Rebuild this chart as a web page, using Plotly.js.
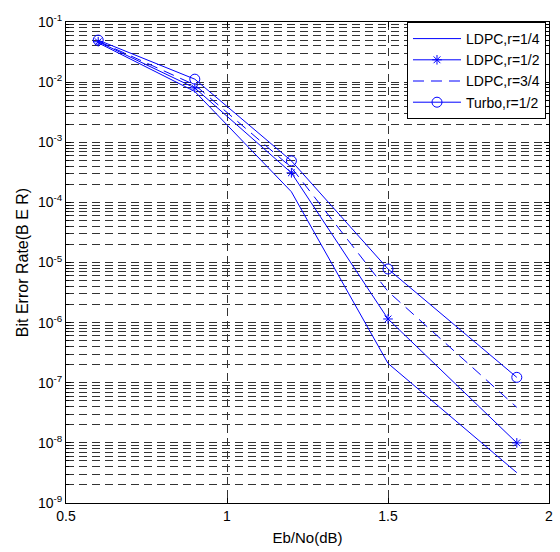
<!DOCTYPE html>
<html>
<head>
<meta charset="utf-8">
<script src="https://cdn.plot.ly/plotly-3.0.1.min.js"></script>
<style>html,body{margin:0;padding:0;background:#fff;}#chart{width:560px;height:552px;}</style>
</head>
<body>
<div id="chart"></div>
<script>
const ebno = [0.6, 0.9, 1.2, 1.5, 1.9];
const ldpc14 = [0.045, 0.0070, 1.5e-4, 2.1e-7, 3.2e-9];
const ldpc12 = [0.047, 0.0080, 3.1e-4, 1.15e-6, 1.0e-8];
const ldpc34 = [0.048, 0.0090, 3.8e-4, 3.3e-6, 3.9e-8];
const turbo12 = [0.050, 0.0112, 4.9e-4, 7.8e-6, 1.23e-7];
const seriesNames = ['LDPC,r=1/4', 'LDPC,r=1/2', 'LDPC,r=3/4', 'Turbo,r=1/2'];
const yTickVals = [1e-9, 1e-8, 1e-7, 1e-6, 1e-5, 1e-4, 1e-3, 1e-2, 1e-1];
const yTickText = ['10<sup>-9</sup>', '10<sup>-8</sup>', '10<sup>-7</sup>', '10<sup>-6</sup>', '10<sup>-5</sup>', '10<sup>-4</sup>', '10<sup>-3</sup>', '10<sup>-2</sup>', '10<sup>-1</sup>'];
const xTickVals = [0.5, 1, 1.5, 2];
const xTickText = ['0.5', '1', '1.5', '2'];

const blue = '#0000ff';
const traces = [
  {x: ebno, y: ldpc14, name: seriesNames[0], mode: 'lines', line: {color: blue, width: 1}},
  {x: ebno, y: ldpc12, name: seriesNames[1], mode: 'lines+markers', line: {color: blue, width: 1},
   marker: {symbol: 'asterisk-open', size: 8, color: blue, line: {color: blue, width: 1}}},
  {x: ebno, y: ldpc34, name: seriesNames[2], mode: 'lines', line: {color: blue, width: 1, dash: '11px,7px'}},
  {x: ebno, y: turbo12, name: seriesNames[3], mode: 'lines+markers', line: {color: blue, width: 1},
   marker: {symbol: 'circle-open', size: 10, color: blue, line: {color: blue, width: 1}}}
];

const font = {family: '"Liberation Sans", Arial, sans-serif', size: 14, color: '#000'};
const layout = {
  width: 560, height: 552,
  margin: {l: 66, r: 11, t: 22, b: 49},
  paper_bgcolor: '#fff', plot_bgcolor: '#fff',
  font: font,
  showlegend: true,
  legend: {x: 0.706, y: 1, xanchor: 'left', yanchor: 'top', bgcolor: '#fff',
           bordercolor: '#000', borderwidth: 1, itemwidth: 48,
           font: {family: font.family, size: 14, color: '#000'}},
  xaxis: {
    range: [0.5, 2], tickmode: 'array', tickvals: xTickVals, ticktext: xTickText,
    showline: true, linecolor: '#000', linewidth: 1, mirror: 'ticks',
    ticks: 'inside', ticklen: 5, tickcolor: '#000',
    tickfont: {family: font.family, size: 14},
    showgrid: true, gridcolor: '#333', gridwidth: 1, griddash: '8px,5px',
    zeroline: false,
    title: {text: 'Eb/No(dB)', font: {family: font.family, size: 15}, standoff: 9}
  },
  yaxis: {
    type: 'log', range: [-9, -1], tickmode: 'array', tickvals: yTickVals, ticktext: yTickText,
    showline: true, linecolor: '#000', linewidth: 1, mirror: 'ticks',
    ticks: 'inside', ticklen: 5, tickcolor: '#000',
    tickfont: {family: font.family, size: 14},
    showgrid: true, gridcolor: '#333', gridwidth: 1, griddash: '8px,5px',
    zeroline: false,
    minor: {dtick: 'D1', ticks: 'inside', ticklen: 3, tickcolor: '#000',
            showgrid: true, gridcolor: '#333', gridwidth: 1, griddash: '8px,5px'},
    title: {text: 'Bit Error Rate(B E R)', font: {family: font.family, size: 16}, standoff: 5}
  }
};
Plotly.newPlot('chart', traces, layout, {displayModeBar: false, staticPlot: true});
</script>
</body>
</html>
